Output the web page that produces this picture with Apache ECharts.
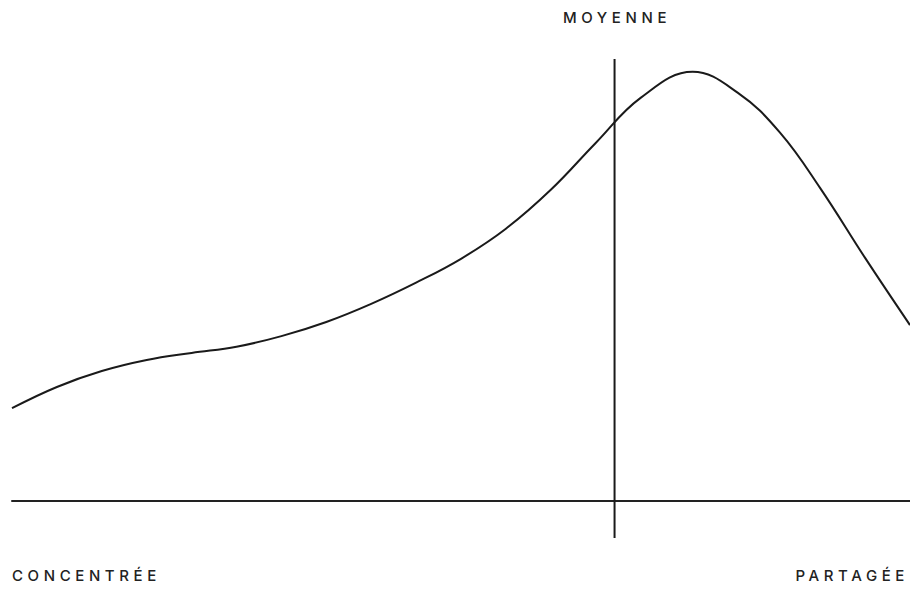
<!DOCTYPE html>
<html>
<head>
<meta charset="utf-8">
<script src="https://cdn.jsdelivr.net/npm/echarts@6/dist/echarts.min.js"></script>
<style>
  html, body { margin: 0; padding: 0; background: #fff; }
  #chart { width: 910px; height: 590px; }
  /* wide letter spacing on the labels */
  #chart svg text { letter-spacing: 4.6px; }
</style>
</head>
<body>
<div id="chart"></div>
<script>
// share of the population (0 = concentrée, 100 = partagée)
var xValues = [0, 5, 10, 15, 20, 25, 30, 35, 40, 45, 50, 55, 60, 65, 70, 75.8, 80.8, 85.5, 90, 95, 100];
// curve height
var yValues = [21.0, 25.8, 29.4, 31.9, 33.5, 34.9, 37.3, 40.5, 44.6, 49.4, 54.8, 61.6, 70.4, 81.0, 91.2, 97.1, 92.4, 83.4, 70.8, 55.0, 39.8];
var meanX = 67.1;
var yMin = -8.37;
var yMax = 100;
var labels = { mean: "MOYENNE", left: "CONCENTRÉE", right: "PARTAGÉE" };

var curve = xValues.map(function (x, i) { return [x, yValues[i]]; });
var ink = "#1a1a1a";
var labelStyle = { fontFamily: "Inter", fontSize: 15, fontWeight: 500, fill: "#222" };

var chart = echarts.init(document.getElementById("chart"), null, { renderer: "svg" });
chart.setOption({
  animation: false,
  grid: { left: 12, right: 0, top: 59, bottom: 52 },
  xAxis: {
    type: "value",
    min: 0,
    max: 100,
    axisLine: { onZero: true, lineStyle: { color: "#222", width: 2 } },
    axisTick: { show: false },
    axisLabel: { show: false },
    splitLine: { show: false }
  },
  yAxis: {
    type: "value",
    min: yMin,
    max: yMax,
    axisLine: { show: false },
    axisTick: { show: false },
    axisLabel: { show: false },
    splitLine: { show: false }
  },
  series: [
    {
      type: "line",
      data: curve,
      smooth: 0.4,
      symbol: "none",
      lineStyle: { color: ink, width: 2 }
    },
    {
      type: "line",
      data: [[meanX, yMin], [meanX, yMax]],
      symbol: "none",
      lineStyle: { color: ink, width: 2 }
    }
  ],
  graphic: [
    {
      type: "text",
      x: 617,
      y: 17,
      style: Object.assign({ text: labels.mean, align: "center", verticalAlign: "middle" }, labelStyle)
    },
    {
      type: "text",
      x: 12,
      y: 575,
      style: Object.assign({ text: labels.left, align: "left", verticalAlign: "middle" }, labelStyle)
    },
    {
      type: "text",
      x: 909,
      y: 575,
      style: Object.assign({ text: labels.right, align: "right", verticalAlign: "middle" }, labelStyle)
    }
  ]
});
</script>
</body>
</html>
